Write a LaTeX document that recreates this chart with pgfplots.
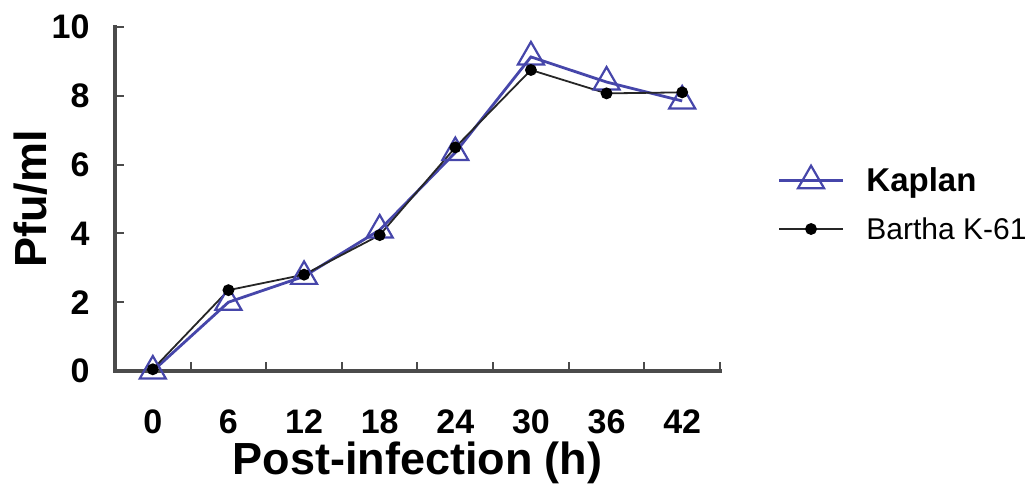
\documentclass[border=0pt]{standalone}
\usepackage{fontspec}
\setmainfont{Liberation Sans}
\usepackage{pgfplots}
\pgfplotsset{compat=1.18}
\definecolor{kapblue}{RGB}{70,70,170}
\definecolor{axgray}{RGB}{75,75,75}

\pgfplotstableread{
x kaplan bartha
0 0.00 0.05
1 2.00 2.35
2 2.75 2.80
3 4.10 3.95
4 6.35 6.50
5 9.13 8.75
6 8.40 8.07
7 7.85 8.10
}\growth

\begin{document}
\begin{tikzpicture}
\begin{axis}[
    scale only axis,
    width=605pt, height=344pt,
    xmin=-0.5, xmax=7.5,
    ymin=0, ymax=10,
    axis x line*=bottom, axis y line*=left,
    axis line style={axgray, line width=2pt},
    xtick={0,...,7},
    xticklabels={0,6,12,18,24,30,36,42},
    major x tick style={draw=none},
    minor xtick={-0.5,0.5,...,7.5},
    minor tick length=9pt,
    ytick={0,2,...,10},
    major tick length=9pt,
    tick align=inside,
    every tick/.style={axgray, line width=2pt},
    /pgf/number format/assume math mode=true,
    tick label style={font=\fontsize{34}{40}\selectfont\bfseries},
    xticklabel style={anchor=base, yshift=-63pt},
    yticklabel style={anchor=east, xshift=-22pt},
    xlabel={Post-infection (h)},
    ylabel={Pfu/ml},
    label style={font=\fontsize{45}{50}\selectfont\bfseries},
    xlabel style={at={(axis description cs:0.5,0)}, anchor=center, yshift=-92pt},
    ylabel style={at={(axis description cs:-0.14,0.5)}, anchor=center},
    legend style={at={(axis description cs:1.09,0.485)}, anchor=west,
        draw=none, fill=none, row sep=20pt, column sep=20pt,
        nodes={inner sep=2pt}},
    legend cell align=left,
    legend image code/.code={
        \draw[mark repeat=2,mark phase=2,#1]
            plot coordinates {(0pt,0pt) (32pt,0pt) (64pt,0pt)};},
    clip=false,
]
% heavy grey spines, as in the original
\draw[axgray, line width=4pt, line cap=rect]
    (rel axis cs:0,1) -- (rel axis cs:0,0) -- (rel axis cs:1,0);
\addplot[kapblue, line width=2.8pt, mark=triangle, mark size=15pt,
    mark options={line width=2.2pt, fill=white}]
    table[x=x, y=kaplan] {\growth};
\addlegendentry{\fontsize{33}{38}\selectfont\bfseries Kaplan}
\addplot[black!85, line width=1.8pt, mark=*, mark size=5pt,
    mark options={black}]
    table[x=x, y=bartha] {\growth};
\addlegendentry{\fontsize{30}{36}\selectfont Bartha K-61}
\coordinate (O) at (rel axis cs:0,0);
\end{axis}
\pgfresetboundingbox
\path (O) ++(-115pt,-115pt) rectangle ++(1031pt,486pt);
\end{tikzpicture}
\end{document}
